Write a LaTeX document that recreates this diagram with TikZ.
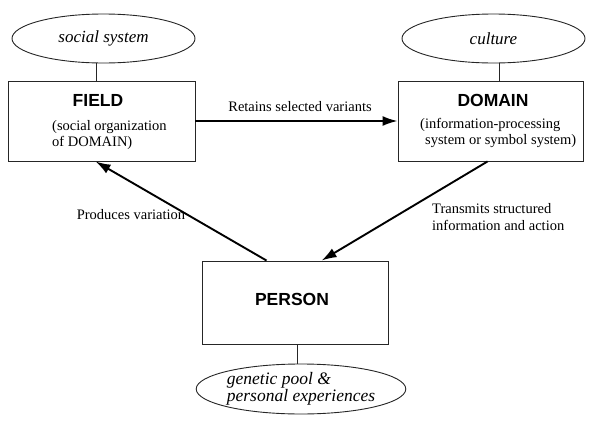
\documentclass[tikz,border=0pt]{standalone}
\usepackage{fontspec}
\setmainfont{Liberation Serif}[ItalicFont={Liberation Serif Italic}]
\newfontfamily\hel{Liberation Sans}
\usetikzlibrary{shapes.geometric,arrows.meta,calc}
\tikzset{
  boxnode/.style={draw=black!85, line width=0.9pt, rectangle, inner sep=0pt},
  ellnode/.style={draw=black!85, line width=0.9pt, ellipse, inner sep=0pt, minimum width=183pt, minimum height=49pt, font=\fontsize{17}{20}\selectfont\itshape},
  title/.style={font=\hel\bfseries\fontsize{17.5}{20}\selectfont, inner sep=0pt},
  body/.style={font=\fontsize{14.5}{16.5}\selectfont, inner sep=0pt, align=left},
  link/.style={draw=black!85, line width=0.9pt},
  flow/.style={draw=black, line width=1.9pt, -{Latex[length=15pt,width=10pt]}},
}
\begin{document}
\begin{tikzpicture}[x=1pt,y=-1pt]
\useasboundingbox (0,0) rectangle (603,426);
% ellipses
\node[ellnode] (social) at (103.5,38.5) {social system};
\node[ellnode] (culture) at (493.5,38.5) {culture};
\node[ellnode, minimum width=182pt, minimum height=50pt, align=left, font=\fontsize{17.5}{17}\selectfont\itshape] (genetic) at (301,389) {genetic pool \&\\personal experiences};
% boxes
\node[boxnode, minimum width=187pt, minimum height=80pt] (field) at (101.5,121) {};
\node[boxnode, minimum width=185pt, minimum height=80pt] (domain) at (490.5,121) {};
\node[boxnode, minimum width=186pt, minimum height=83pt] (person) at (295,302.5) {};
% texts in boxes
\node[title] (fieldt) at (98,100) {FIELD};
\node[body, anchor=west] (fieldb) at (52,135) {(social organization\\of DOMAIN)};
\node[title] (domaint) at (493,100) {DOMAIN};
\node[body, anchor=west] (domainb) at (420,133) {(information-processing\\\hspace*{5pt}system or symbol system)};
\node[title] (persont) at (292,299) {PERSON};
% links
\draw[link] ([xshift=-7.5pt]social.south) -- ([xshift=-5.5pt]field.north);
\draw[link] ([xshift=5.5pt]culture.south) -- ([xshift=8.5pt]domain.north);
\draw[link] ([xshift=2pt]person.south) -- ([xshift=-4pt]genetic.north);
% arrows
\draw[flow] (field) -- (domain);
\draw[flow] ([xshift=65pt]person.north west) -- ([xshift=88pt]field.south west);
\draw[flow] ([xshift=90pt]domain.south west) -- ([xshift=120pt]person.north west);
% labels
\node[body] (lretain) at (300,107) {Retains selected variants};
\node[body] (lprod) at (131,215) {Produces variation};
\node[body, anchor=west] (ltrans) at (432,217) {Transmits structured\\information and action};
\end{tikzpicture}
\end{document}
